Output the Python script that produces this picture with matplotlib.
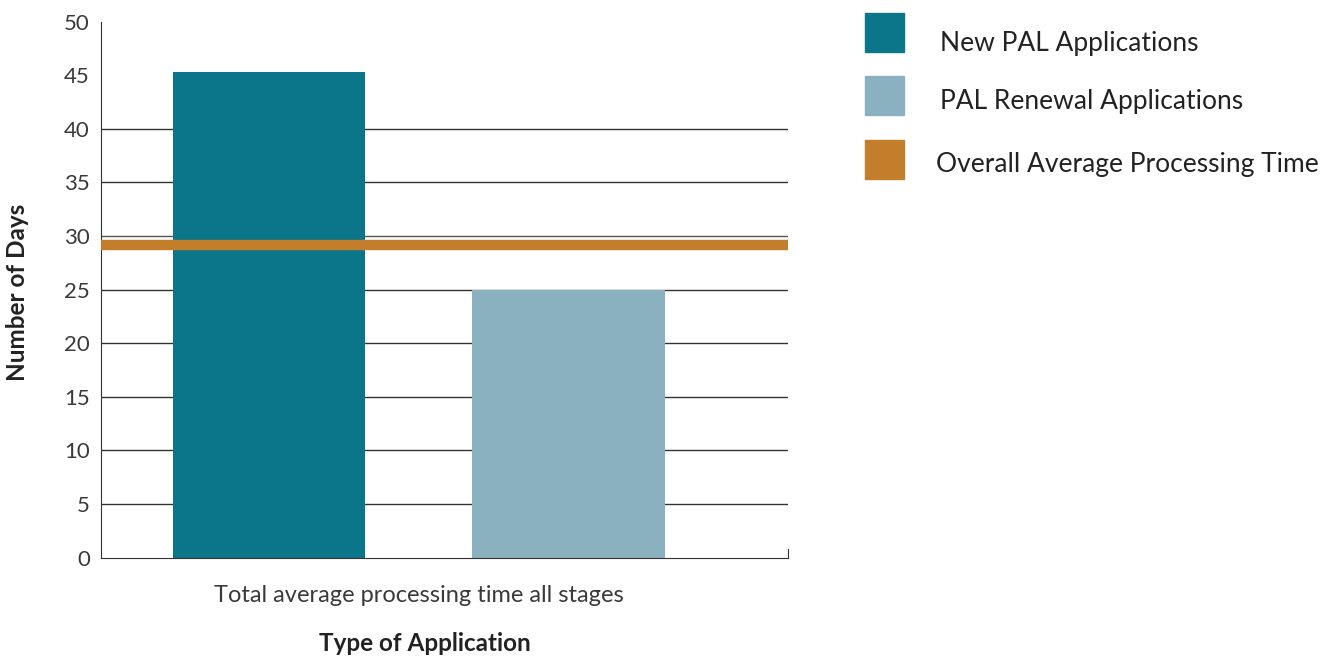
import matplotlib.pyplot as plt
from matplotlib.patches import Rectangle

# processing time data (days)
group_label = "Total average processing time all stages"
series_names = ["New PAL Applications", "PAL Renewal Applications"]
series_values = [45.3, 25.0]
overall_avg = 29.15
avg_name = "Overall Average Processing Time"
yticks = [0, 5, 10, 15, 20, 25, 30, 35, 40, 45, 50]

colors = ["#0b7689", "#8ab1c0"]
avg_color = "#c27e2a"

plt.rcParams['font.family'] = ['Lato', 'DejaVu Sans']

W, H = 1340, 656
fig = plt.figure(figsize=(W / 100, H / 100), dpi=100)
ax = fig.add_axes([0.0754, 0.150, 0.5125, 0.817])

offsets = [-0.5, 0.5]
for off, val, c in zip(offsets, series_values, colors):
    ax.bar(off, val, width=0.643, color=c, zorder=2)

ax.axhline(overall_avg, color=avg_color, lw=7.5, zorder=3)

ax.set_xlim(-1.06, 1.23)
ax.set_ylim(0, 50)
ax.set_yticks(yticks)
ax.set_yticklabels([str(t) for t in yticks], fontsize=16, color="#3a3a3a")
ax.tick_params(axis='y', length=0, pad=8)

for t in yticks[1:-2]:
    ax.axhline(t, color="#555555" if t == 30 else "#333333", lw=1.0, zorder=1)

ax.set_xticks([0])
ax.set_xticklabels([group_label], fontsize=17, color="#3a3a3a")
ax.tick_params(axis='x', length=0, pad=20)

ax.spines['top'].set_visible(False)
for s in ['left', 'bottom', 'right']:
    ax.spines[s].set_color("#333333")
ax.spines['right'].set_bounds(0, 0.8)

ax.set_xlabel("Type of Application", fontsize=17.5, fontweight='bold',
              color="#222222")
ax.xaxis.set_label_coords(0.472, -0.138)
fig.text(18 / W, 1 - 292 / H, "Number of Days", rotation=90, fontsize=17.5,
         fontweight='bold', color="#222222", ha='center', va='center')

# legend: colour squares with labels to the right
legend_items = [(colors[0], series_names[0], 13, 940, 44),
                (colors[1], series_names[1], 76, 940, 101),
                (avg_color, avg_name, 140, 936, 165)]
for c, name, top, tx, ty in legend_items:
    fig.add_artist(Rectangle((865 / W, 1 - (top + 39) / H), 39 / W, 39 / H,
                             transform=fig.transFigure, color=c))
    fig.text(tx / W, 1 - ty / H, name, fontsize=19, color="#222222",
             ha='left', va='center')

fig.savefig("out.png", dpi=100)
